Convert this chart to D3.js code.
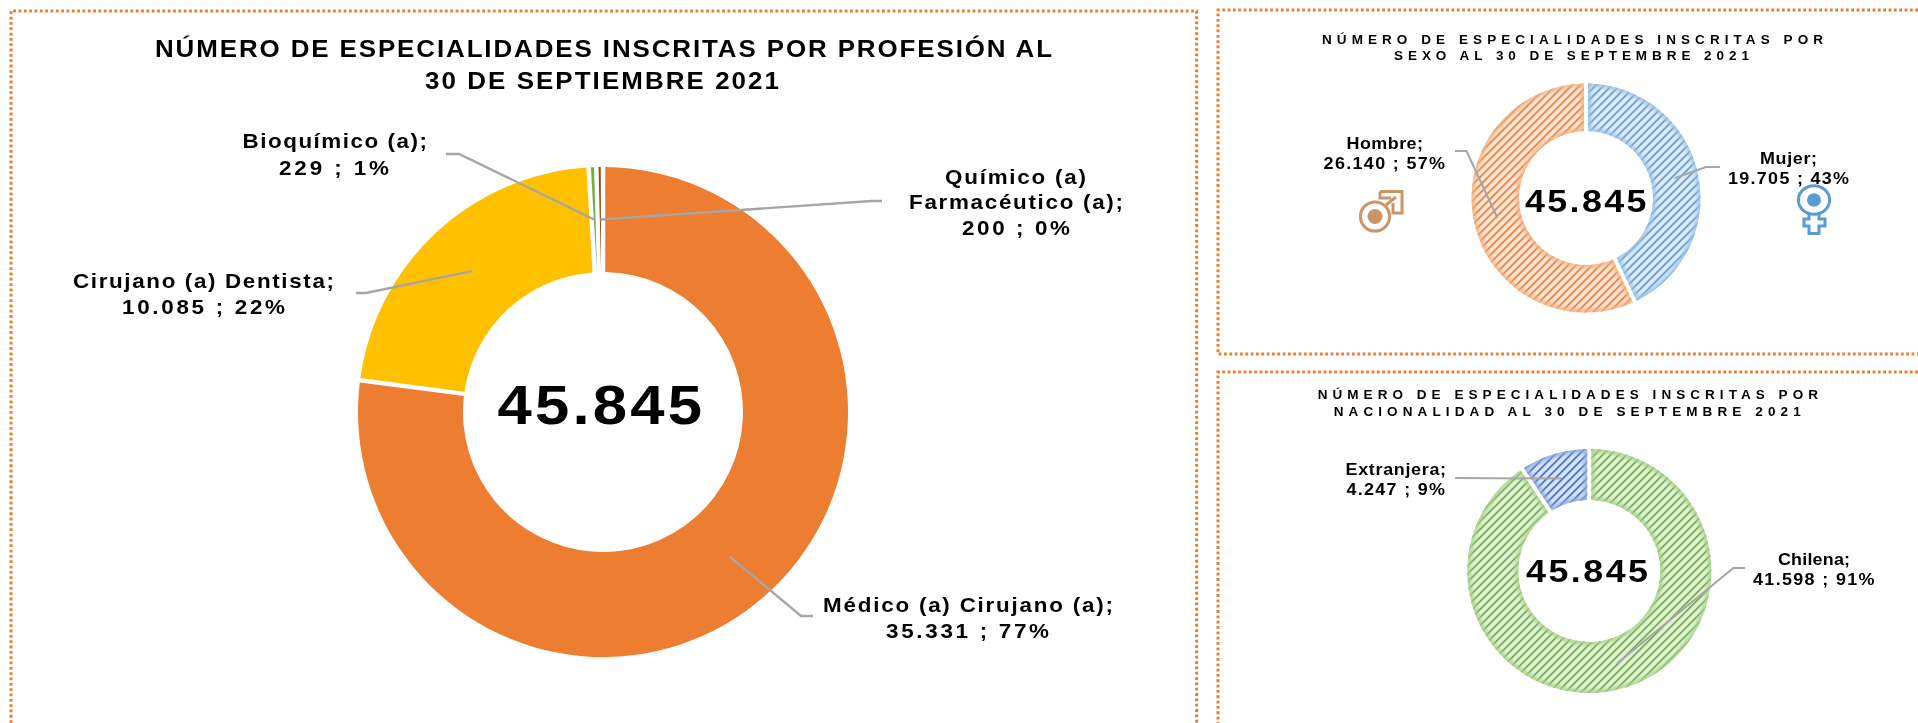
<!DOCTYPE html>
<html><head><meta charset="utf-8">
<script src="https://cdn.jsdelivr.net/npm/d3@7/dist/d3.min.js"></script>
<style>html,body{margin:0;background:#fff;overflow:hidden}svg{display:block;filter:blur(.35px)}text{font-family:"Liberation Sans",Arial,sans-serif;font-weight:700;fill:#000}</style>
</head><body><svg id="c" width="1918" height="723"></svg>
<script>
const total = 45845;
const profNames = ["Médico (a) Cirujano (a)","Cirujano (a) Dentista","Bioquímico (a)","Químico (a) Farmacéutico (a)"];
const profValues = [35331,10085,229,200];
const profPct = [77,22,1,0];
const profColors = ["#ed7d31","#ffc000","#70ad47","#9e480e"];
const sexNames = ["Mujer","Hombre"];
const sexValues = [19705,26140];
const sexPct = [43,57];
const natNames = ["Chilena","Extranjera"];
const natValues = [41598,4247];
const natPct = [91,9];

const num = d3.formatLocale({decimal:",",thousands:".",grouping:[3],currency:["",""]}).format(",");
const svg = d3.select("#c"), defs = svg.append("defs");

function hatch(id, base, stripe){
  const p = defs.append("pattern").attr("id",id).attr("patternUnits","userSpaceOnUse")
    .attr("width",5.66).attr("height",5.66).attr("patternTransform","rotate(45)");
  p.append("rect").attr("width",5.66).attr("height",5.66).attr("fill",base);
  p.append("rect").attr("width",1.7).attr("height",5.66).attr("fill",stripe);
}
hatch("hO","#fbe5d6","#ed7d31"); hatch("hB","#deebf7","#5b9bd5");
hatch("hG","#e2f0d9","#70ad47"); hatch("hD","#dae3f3","#4472c4");
defs.append("filter").attr("id","soft").attr("x","-10%").attr("y","-10%").attr("width","120%").attr("height","120%")
  .append("feGaussianBlur").attr("stdDeviation",1.6);

function border(points){
  svg.append("path").attr("d",d3.line()(points)).attr("fill","none").attr("stroke","#ed7d31")
    .attr("stroke-width",3).attr("stroke-dasharray","2.8 2.53");
}
border([[11,723],[11,11],[1196.6,11],[1196.6,723]]);
border([[1918,10],[1218,10],[1218,354],[1918,354]]);
border([[1918,372],[1218,372],[1218,723]]);

// text is placed by its measured span: glyphs widened by sx, the rest taken up by letter spacing
function fit(t,x0,x1,base,size,sx){
  const k = sx||1.12;
  svg.append("text").attr("transform",`translate(${x0},${base}) scale(${k},1)`).attr("font-size",size)
    .attr("textLength",(x1-x0)/k).attr("lengthAdjust","spacing").text(t);
}
let uid=0;
function donut(cfg){
  const g = svg.append("g").attr("transform",`translate(${cfg.cx},${cfg.cy})`);
  const scale = d3.scaleLinear().domain([0,total]).range([0,2*Math.PI]);
  const pie = d3.pie().sort(null).value(d=>d).startAngle(scale(0)).endAngle(scale(total));
  const arcs = pie(cfg.values);
  const arc = d3.arc().innerRadius(cfg.r0).outerRadius(cfg.r1).padAngle(cfg.gap/cfg.r1).padRadius(cfg.r1);
  arcs.forEach((a,i)=>{
    const d = arc(a);
    g.append("path").attr("d",d).attr("fill",cfg.fills[i]);
    if(cfg.glow){
      const id="clip"+(uid++);
      defs.append("clipPath").attr("id",id).append("path").attr("d",d);
      g.append("g").attr("clip-path",`url(#${id})`).append("path").attr("d",d).attr("fill","none")
        .attr("stroke",cfg.glow[i]).attr("stroke-width",7).attr("stroke-opacity",.75).attr("filter","url(#soft)");
    }
  });
  const mid = d3.arc().innerRadius(cfg.r0).outerRadius(cfg.r1);
  const lead = g.append("g");
  arcs.forEach((a,i)=>{
    const s = mid.centroid(a);
    const pts = [[s[0]+cfg.cx,s[1]+cfg.cy],...cfg.leaders[i]].map(p=>[p[0]-cfg.cx,p[1]-cfg.cy]);
    lead.append("path").attr("d",d3.line()(pts)).attr("fill","none").attr("stroke","#a6a6a6").attr("stroke-width",cfg.lw);
  });
}

// main
donut({cx:603,cy:412,r0:140,r1:245,gap:4.5,values:profValues,fills:profColors,lw:2.3,
  leaders:[[[801,616],[813,616]],[[366,293],[356,293]],[[459,154],[446,154]],[[872,201],[882,201]]]});
fit("NÚMERO DE ESPECIALIDADES INSCRITAS POR PROFESIÓN AL",155,1052,56.5,24,1.08);
fit("30 DE SEPTIEMBRE 2021",425,779,88.5,24,1.08);
fit(`${profNames[2]};`,242.5,427,148,20);
fit(`${num(profValues[2])} ; ${profPct[2]}%`,279,389,175,20);
fit("Químico (a)",945,1086,183.5,20);
fit("Farmacéutico (a);",909,1123,209,20);
fit(`${num(profValues[3])} ; ${profPct[3]}%`,962,1070,235,20);
fit(`${profNames[1]};`,73,334,287.5,20);
fit(`${num(profValues[1])} ; ${profPct[1]}%`,122,285,314,20);
fit(`${profNames[0]};`,823,1113,612,20);
fit(`${num(profValues[0])} ; ${profPct[0]}%`,886,1049,638,20);
fit(num(total),497.5,702,424,55);

// sex
donut({cx:1586,cy:198,r0:67,r1:114.5,gap:4,values:sexValues,fills:["url(#hB)","url(#hO)"],glow:["#9dc3e6","#f4b183"],lw:2,
  leaders:[[[1706,167],[1720,167]],[[1466.5,151],[1455,151]]]});
fit("NÚMERO DE ESPECIALIDADES INSCRITAS POR",1322,1823,44,13.5,1);
fit("SEXO AL 30 DE SEPTEMBRE 2021",1394,1749,60,13.5,1);
fit(`${sexNames[1]};`,1346.5,1423,148.5,16);
fit(`${num(sexValues[1])} ; ${sexPct[1]}%`,1323.6,1445,168.5,16);
fit(`${sexNames[0]};`,1760,1817,164,16);
fit(`${num(sexValues[0])} ; ${sexPct[0]}%`,1728,1849,184,16);
fit(num(total),1525,1646.5,211.7,32);

// nationality
donut({cx:1589.3,cy:571,r0:71,r1:122,gap:4,values:natValues,fills:["url(#hG)","url(#hD)"],glow:["#a9d18e","#8faadc"],lw:2,
  leaders:[[[1733.4,568],[1745,568]],[[1455,478]]]});
fit("NÚMERO DE ESPECIALIDADES INSCRITAS POR",1317.7,1818,399.3,13.5,1);
fit("NACIONALIDAD AL 30 DE SEPTEMBRE 2021",1333.7,1800.7,416,13.5,1);
fit(`${natNames[1]};`,1345.6,1446,475,16);
fit(`${num(natValues[1])} ; ${natPct[1]}%`,1346.5,1445,495,16);
fit(`${natNames[0]};`,1778,1850,565,16);
fit(`${num(natValues[0])} ; ${natPct[0]}%`,1753,1874.5,585,16);
fit(num(total),1526,1648,582.3,32);

// symbols
const male = svg.append("g").attr("fill","none").attr("stroke","#cc9469").attr("stroke-width",3);
male.append("circle").attr("cx",1375).attr("cy",216.5).attr("r",14.6);
male.append("circle").attr("cx",1375).attr("cy",216.5).attr("r",7.5).attr("fill","#cc9469").attr("stroke","none");
male.append("path").attr("d","M1386 205 L1396 197 M1380 191.5 H1402 V213 H1393 V203 M1380 191.5 V198 H1391");
const fem = svg.append("g").attr("fill","none").attr("stroke","#5b9bd5").attr("stroke-width",3);
fem.append("ellipse").attr("cx",1814).attr("cy",200).attr("rx",15.6).attr("ry",14.3);
fem.append("ellipse").attr("cx",1814).attr("cy",200).attr("rx",7).attr("ry",6.8).attr("fill","#5b9bd5").attr("stroke","none");
fem.append("path").attr("d","M1809 214 V219 H1804 V226 H1809 V233.5 H1819 V226 H1825 V219 H1819 V214");
</script></body></html>
